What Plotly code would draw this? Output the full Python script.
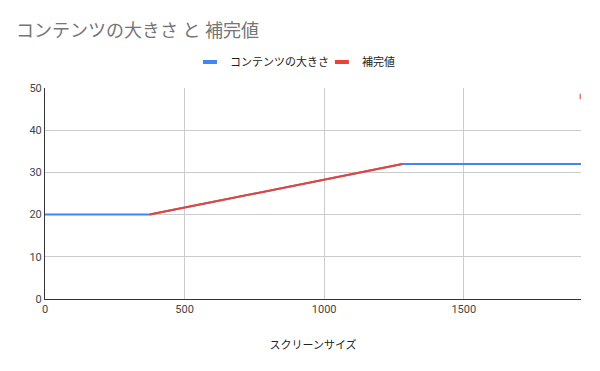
import plotly.graph_objects as go

title = "コンテンツの大きさ と 補完値"
x_title = "スクリーンサイズ"
series_names = ["コンテンツの大きさ", "補完値"]
series_colors = ["#4285f4", "#ea4335"]

screen_x = [0, 375, 1280, 1920]
content_size = [20, 20, 32, 32]

interp_x = [375, 1280, 1600, 1920]
interp_vals = [20, 32, None, 48]

x_ticks = [0, 500, 1000, 1500]
y_ticks = [0, 10, 20, 30, 40, 50]

FONT = "Roboto, Arial, 'Noto Sans CJK JP', sans-serif"

fig = go.Figure()
fig.add_trace(go.Scatter(
    x=screen_x, y=content_size, name=series_names[0], mode="lines",
    line=dict(color=series_colors[0], width=2), showlegend=False,
))
fig.add_trace(go.Scatter(
    x=interp_x, y=interp_vals, name=series_names[1], mode="lines+markers",
    line=dict(color=series_colors[1], width=2),
    marker=dict(symbol="line-ns", size=[0, 0, 0, 4],
                line=dict(color=series_colors[1], width=3)),
    connectgaps=False, showlegend=False, cliponaxis=True,
))
# legend-only entries (short thick bars like the reference)
for name, color, lg in zip(series_names, series_colors, ["legend", "legend2"]):
    fig.add_trace(go.Scatter(
        x=[None], y=[None], name=name, mode="markers", legend=lg,
        marker=dict(symbol="line-ew", size=10, line=dict(color=color, width=4)),
    ))

legend_common = dict(orientation="h", xanchor="left", y=1.123, yanchor="middle",
                     font=dict(size=11, color="#222222"), itemwidth=30,
                     bgcolor="rgba(0,0,0,0)")

fig.update_layout(
    width=600, height=371,
    margin=dict(l=37, r=27, t=80, b=80),
    paper_bgcolor="white", plot_bgcolor="white",
    font=dict(family=FONT, color="#222222", size=11),
    title=dict(text=title, x=0.0133, xanchor="left", y=0.94, yanchor="middle",
               font=dict(size=18, color="#757575", family=FONT)),
    legend=dict(x=0.2705, **legend_common),
    legend2=dict(x=0.5166, **legend_common),
    showlegend=True,
    xaxis=dict(
        range=[0, 1920], tickvals=x_ticks, ticktext=[str(v) for v in x_ticks],
        showgrid=True, gridcolor="#cccccc", gridwidth=1,
        showline=True, linecolor="#333333", linewidth=1,
        zeroline=False, ticks="", tickfont=dict(size=11, color="#444444"),
        title=dict(text=x_title, font=dict(size=11, color="#222222"), standoff=26),
    ),
    yaxis=dict(
        range=[0, 50], tickvals=y_ticks,
        showgrid=True, gridcolor="#cccccc", gridwidth=1,
        showline=True, linecolor="#333333", linewidth=1,
        zeroline=False, ticks="", tickfont=dict(size=11, color="#444444"),
    ),
)

fig.write_html("out.html")
